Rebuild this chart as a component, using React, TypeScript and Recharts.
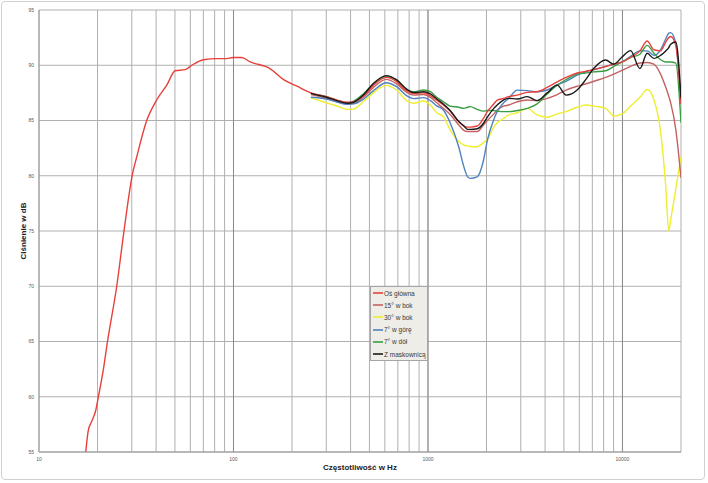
import React from 'react';
import {
  LineChart,
  Line,
  XAxis,
  YAxis,
  CartesianGrid,
  Legend,
  ReferenceLine,
  Label,
} from 'recharts';

// low-frequency part, only the main axis curve was measured there
const lowFreqs = [17.4, 17.9, 18.7, 19.6, 20.2, 21.4, 22.5, 25.1, 27.4, 30.2, 31.8, 35.8, 40.4, 45.4, 50.1, 56.4, 61.1, 70.1, 82.2, 90.6, 100, 110, 122, 154, 181, 212];
const lowMain = [55.0, 56.9, 57.8, 58.8, 60.0, 62.4, 65.0, 70.0, 75.1, 80.1, 81.7, 85.0, 86.9, 88.2, 89.5, 89.6, 90.0, 90.5, 90.6, 90.6, 90.7, 90.7, 90.3, 89.7, 88.7, 88.1];

// common frequencies for all six measurements (Hz)
const freqs = [250, 300, 340, 385, 415, 465, 525, 610, 690, 780, 845, 950, 1030, 1110, 1200, 1300, 1440, 1530, 1600, 1650, 1790, 1930, 2020, 2180, 2270, 2450, 2600, 2880, 3240, 3640, 4100, 4620, 5130, 5850, 6460, 7130, 8190, 9030, 9980, 11000, 12300, 13400, 14500, 15700, 16700, 17300, 17700, 18800, 20000];

const osGlowna = [87.5, 87.15, 86.85, 86.65, 86.7, 87.22, 88.19, 88.9, 88.52, 87.67, 87.45, 87.5, 87.25, 86.85, 86.4, 85.85, 84.9, 84.5, 84.4, 84.4, 84.5, 85.2, 85.8, 86.5, 86.85, 87.0, 87.16, 87.3, 87.55, 87.6, 88.0, 88.5, 88.9, 89.3, 89.45, 89.6, 89.87, 90.1, 90.3, 90.7, 91.3, 92.2, 91.4, 91.3, 92.1, 92.5, 92.6, 91.8, 86.5];
const bok15 = [87.34, 87.0, 86.7, 86.5, 86.55, 87.1, 88.0, 88.72, 88.31, 87.52, 87.3, 87.35, 87.1, 86.6, 86.1, 85.55, 84.6, 84.1, 84.0, 84.0, 84.0, 84.6, 85.0, 85.6, 85.95, 86.3, 86.4, 86.7, 86.85, 86.8, 87.0, 87.35, 87.75, 88.1, 88.3, 88.55, 88.9, 89.2, 89.55, 89.9, 90.2, 90.25, 90.1, 89.2, 88.0, 87.2, 86.6, 84.2, 79.8];
const bok30 = [87.05, 86.61, 86.31, 86.0, 86.05, 86.7, 87.52, 88.18, 87.76, 86.77, 86.56, 86.77, 86.4, 85.71, 85.35, 84.15, 83.1, 82.78, 82.7, 82.65, 82.63, 83.0, 83.3, 84.4, 84.8, 85.2, 85.5, 85.7, 86.1, 85.5, 85.3, 85.6, 85.8, 86.2, 86.4, 86.3, 86.1, 85.4, 85.6, 86.3, 87.1, 87.8, 86.9, 84.0, 79.0, 75.0, 76.0, 78.8, 81.7];
const gora7 = [87.1, 86.95, 86.67, 86.47, 86.5, 86.92, 87.7, 88.42, 88.06, 87.22, 86.98, 87.07, 86.8, 86.32, 85.95, 84.8, 82.6, 80.8, 79.9, 79.76, 79.9, 81.4, 83.2, 85.1, 85.8, 86.6, 87.0, 87.75, 87.7, 87.6, 87.76, 88.22, 88.55, 89.1, 89.4, 89.6, 89.9, 90.1, 90.3, 90.8, 91.3, 91.3, 90.9, 91.4, 92.4, 92.9, 92.95, 92.0, 86.5];
const dol7 = [87.46, 87.16, 86.85, 86.6, 86.75, 87.4, 88.3, 88.97, 88.67, 87.76, 87.6, 87.76, 87.61, 87.1, 86.7, 86.3, 86.2, 86.1, 86.2, 86.26, 86.0, 85.85, 85.9, 85.9, 85.85, 85.8, 85.8, 85.9, 86.1, 86.5, 87.4, 88.2, 88.7, 89.2, 89.3, 89.4, 89.5, 89.9, 90.3, 90.7, 91.0, 91.8, 91.1, 90.5, 90.3, 90.3, 90.3, 90.2, 84.8];
const maskownica = [87.45, 87.1, 86.8, 86.56, 86.65, 87.3, 88.37, 89.06, 88.67, 87.82, 87.52, 87.6, 87.4, 86.95, 86.5, 85.9, 84.9, 84.5, 84.2, 84.2, 84.25, 84.75, 85.3, 86.1, 86.4, 86.86, 87.0, 86.95, 87.16, 86.8, 87.5, 88.2, 87.3, 87.76, 88.67, 89.72, 90.47, 90.1, 90.77, 91.32, 89.7, 91.08, 90.62, 90.9, 91.3, 91.6, 91.9, 92.1, 87.0];

const xTicks = [10, 20, 30, 40, 50, 60, 70, 80, 90, 100, 200, 300, 400, 500, 600, 700, 800, 900, 1000, 2000, 3000, 4000, 5000, 6000, 7000, 8000, 9000, 10000, 20000];
const xLabels = [10, 100, 1000, 10000];
const yTicks = [55, 60, 65, 70, 75, 80, 85, 90, 95];

const toPoints = (xs: number[], ys: number[]) => xs.map((f, i) => ({ f, db: ys[i] }));

const series = [
  { name: 'Oś główna', color: '#e8403a', data: [...toPoints(lowFreqs, lowMain), ...toPoints(freqs, osGlowna)] },
  { name: '15° w bok', color: '#c46262', data: toPoints(freqs, bok15) },
  { name: '30° w bok', color: '#eeee30', data: toPoints(freqs, bok30) },
  { name: '7° w górę', color: '#4f81bd', data: toPoints(freqs, gora7) },
  { name: '7° w dół', color: '#3a9d44', data: toPoints(freqs, dol7) },
  { name: 'Z maskownicą', color: '#1a1a1a', data: toPoints(freqs, maskownica) },
];

// which one goes on top
const drawOrder = ['30° w bok', '15° w bok', '7° w górę', '7° w dół', 'Oś główna', 'Z maskownicą'];

const font = '"Liberation Sans", Arial, sans-serif';

const LegendBox = () => (
  <div
    style={{
      background: '#eeede7',
      border: '1px solid #a5a5a5',
      fontFamily: font,
      fontSize: 6.5,
      color: '#3a3a3a',
      width: 58,
      height: 75,
      boxSizing: 'border-box',
      paddingLeft: 2,
      overflow: 'hidden',
    }}
  >
    {series.map((s) => (
      <div key={s.name} style={{ display: 'flex', alignItems: 'center', height: 12.2, whiteSpace: 'nowrap' }}>
        <svg width={10} height={4} style={{ marginRight: 1, flex: 'none' }}>
          <line x1={0} y1={2} x2={10} y2={2} stroke={s.color} strokeWidth={1.6} />
        </svg>
        <span>{s.name}</span>
      </div>
    ))}
  </div>
);

export default function App() {
  return (
    <div style={{ position: 'absolute', left: 0, top: 0, width: 708, height: 483, background: '#fff' }}>
      <div
        style={{
          position: 'absolute',
          left: 1,
          top: 1,
          width: 704,
          height: 479,
          border: '1.5px solid #d0d0d0',
          borderRadius: 4,
          boxSizing: 'border-box',
        }}
      />
      <div style={{ position: 'absolute', left: 0, top: 0 }}>
        <LineChart
          width={708}
          height={483}
          margin={{ top: 10, right: 27, bottom: 0, left: 8 }}
          style={{ fontFamily: font }}
        >
          <CartesianGrid stroke="#b0b0b0" strokeWidth={1} />
          <XAxis
            dataKey="f"
            type="number"
            scale="log"
            domain={[10, 20000]}
            allowDataOverflow
            ticks={xTicks}
            interval={0}
            height={31}
            tickLine={false}
            tickSize={3}
            tickMargin={2}
            axisLine={{ stroke: '#9a9a9a' }}
            tick={{ fontSize: 5, fill: '#595959' }}
            tickFormatter={(v: number) => (xLabels.includes(v) ? String(v) : '')}
          >
            <Label value="Częstotliwość w Hz" position="center" style={{ fontSize: 8, fontWeight: 'bold', fill: '#222' }} />
          </XAxis>
          <YAxis
            type="number"
            domain={[55, 95]}
            ticks={yTicks}
            interval={0}
            width={31}
            tickLine={false}
            tickSize={3}
            tickMargin={2}
            axisLine={{ stroke: '#9a9a9a' }}
            tick={{ fontSize: 5, fill: '#595959' }}
          >
            <Label value="Ciśnienie w dB" angle={-90} position="center" style={{ fontSize: 8, fontWeight: 'bold', fill: '#222' }} />
          </YAxis>
          {xLabels.slice(1).map((x) => (
            <ReferenceLine key={x} x={x} stroke="#8a8a8a" />
          ))}
          {drawOrder.map((name) => {
            const s = series.find((d) => d.name === name)!;
            return (
              <Line
                key={s.name}
                data={s.data}
                dataKey="db"
                name={s.name}
                type="monotone"
                stroke={s.color}
                strokeWidth={1.4}
                dot={false}
                activeDot={false}
                isAnimationActive={false}
              />
            );
          })}
          <Legend
            layout="vertical"
            align="center"
            verticalAlign="middle"
            wrapperStyle={{ left: 370, top: 286, width: 58, height: 75 }}
            content={() => <LegendBox />}
          />
        </LineChart>
      </div>
    </div>
  );
}
